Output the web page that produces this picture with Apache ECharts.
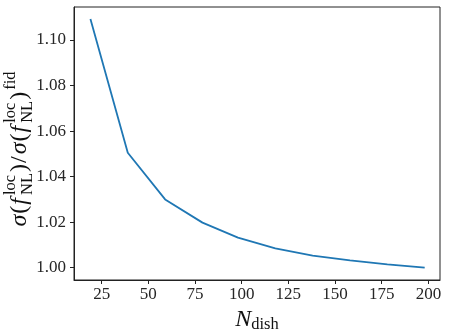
<!DOCTYPE html>
<html><head><meta charset="utf-8">
<script src="https://cdn.jsdelivr.net/npm/echarts@6/dist/echarts.min.js"></script>
<style>html,body{margin:0;padding:0;background:#fff}#c{width:449px;height:335px}</style>
</head><body><div id="c"></div>
<script>
const nDish = [19, 39, 59, 79, 98, 118, 138, 158, 178, 198];
const sigmaRatio = [1.1092, 1.0505, 1.0300, 1.0198, 1.0132, 1.0085, 1.0053, 1.0032, 1.0015, 1.0000];
const xTicks = [25, 50, 75, 100, 125, 150, 175, 200];
const yTicks = [1.00, 1.02, 1.04, 1.06, 1.08, 1.10];

const FONT = "'Liberation Serif', 'DejaVu Serif', serif";
const MAIN = 24, SCRIPT = 16.5, SUP = 11.5, SUB = 5;

// build y-axis label "σ(f_NL^loc)/σ(f_NL^loc)^fid" as positioned text runs
const ctx = document.createElement('canvas').getContext('2d');
function tw(t, size, it) { ctx.font = (it ? 'italic ' : '') + size + 'px ' + FONT; return ctx.measureText(t).width; }
const runs = [];
let cx = 0;
function put(t, size, it, shift) { runs.push({t, size, it, x: cx, shift}); return tw(t, size, it); }
function mainRun(t, it, extra) { cx += put(t, MAIN, it, 0) + 1 + (extra || 0); }
function stack(sup, sub) {
  const a = put(sup, SCRIPT, false, -SUP);
  const b = put(sub, SCRIPT, false, SUB);
  cx += Math.max(a, b) + 1;
}
mainRun('σ', true); mainRun('(', false); mainRun('f', true, 2); stack('loc', 'NL');
mainRun(')', false); mainRun('/', false, 1);
mainRun('σ', true); mainRun('(', false); mainRun('f', true, 2); stack('loc', 'NL');
mainRun(')', false, 1); cx += put('fid', SCRIPT, false, -SUP);
const totalW = cx;
const nameChildren = runs.map(r => ({
  type: 'text', x: r.x - totalW / 2, y: r.shift - 0.34 * r.size,
  style: {text: r.t, fontSize: r.size, fontFamily: FONT, fontStyle: r.it ? 'italic' : 'normal',
          fill: '#111', align: 'left', verticalAlign: 'middle'}
}));

const chart = echarts.init(document.getElementById('c'), null, {renderer: 'canvas'});
chart.setOption({
  animation: false,
  backgroundColor: '#fff',
  grid: {left: 74, right: 9, top: 7, bottom: 55, outerBoundsMode: 'none', containLabel: false,
         show: true, borderColor: '#222', borderWidth: 1, backgroundColor: 'transparent'},
  xAxis: {
    type: 'value', min: 10.2, max: 206.2,
    axisLine: {show: true, lineStyle: {color: '#222', width: 1}},
    axisTick: {show: true, length: 4, inside: false, customValues: xTicks, lineStyle: {color: '#222'}},
    axisLabel: {customValues: xTicks, fontFamily: FONT, fontSize: 17, color: '#262626', margin: 6},
    splitLine: {show: false},
    name: '{n|N}{s|dish}', nameLocation: 'middle', nameGap: 27,
    nameTextStyle: {rich: {
      n: {fontFamily: FONT, fontSize: MAIN, fontStyle: 'italic', color: '#111', lineHeight: 26, verticalAlign: 'middle'},
      s: {fontFamily: FONT, fontSize: SCRIPT, color: '#111', lineHeight: 14, verticalAlign: 'bottom'}
    }}
  },
  yAxis: {
    type: 'value', min: 0.9946, max: 1.1145,
    axisLine: {show: true, lineStyle: {color: '#222', width: 1}},
    axisTick: {show: true, length: 4, inside: false, customValues: yTicks, lineStyle: {color: '#222'}},
    axisLabel: {customValues: yTicks, fontFamily: FONT, fontSize: 17, color: '#262626', margin: 8,
      formatter: v => v.toFixed(2)},
    splitLine: {show: false}
  },
  graphic: [{
    type: 'group', x: 28, y: 149, rotation: Math.PI / 2, silent: true,
    children: nameChildren
  }],
  series: [{
    type: 'line', data: nDish.map((x, i) => [x, sigmaRatio[i]]),
    showSymbol: false, symbol: 'none',
    lineStyle: {color: '#1f77b4', width: 1.8}
  }]
});
</script></body></html>
